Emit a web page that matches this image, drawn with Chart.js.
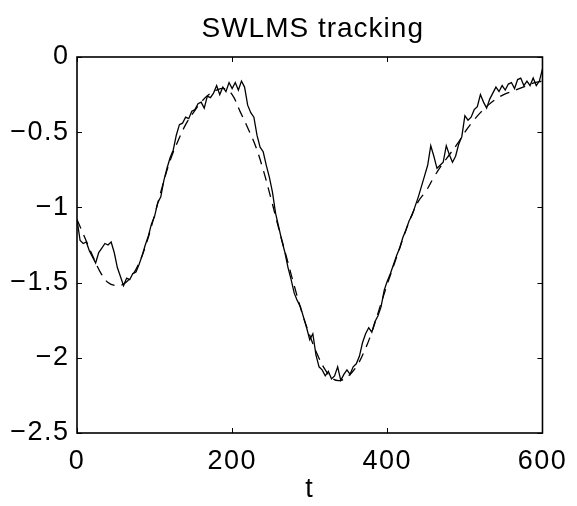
<!DOCTYPE html>
<html>
<head>
<meta charset="utf-8">
<script src="https://cdn.jsdelivr.net/npm/chart.js@4.4.1/dist/chart.umd.min.js"></script>
<style>
  body { margin: 0; background: #fff; }
  canvas { display: block; }
</style>
</head>
<body>
<canvas id="trackChart" width="577" height="506"></canvas>
<script>
// true parameter (dashed), sampled every 10 steps
const trueT = [0, 10, 20, 30, 40, 50, 60, 70, 80, 90, 100, 110, 120, 130, 140, 150, 160, 170, 180, 190,
  200, 210, 220, 230, 240, 250, 260, 270, 280, 290, 300, 310, 320, 330, 340, 350, 360, 370, 380, 390,
  400, 410, 420, 430, 440, 450, 460, 470, 480, 490, 500, 510, 520, 530, 540, 550, 560, 570, 580, 590, 600];
const trueValues = [-1.08, -1.20, -1.32, -1.43, -1.50, -1.52, -1.51, -1.46, -1.37, -1.23,
  -1.05, -0.86, -0.69, -0.56, -0.45, -0.37, -0.30, -0.25, -0.22, -0.21,
  -0.25, -0.36, -0.47, -0.59, -0.75, -0.94, -1.14, -1.33, -1.52, -1.70,
  -1.85, -1.98, -2.08, -2.14, -2.15, -2.12, -2.06, -1.96, -1.83, -1.67,
  -1.51, -1.36, -1.21, -1.07, -0.96, -0.89, -0.80, -0.72, -0.65, -0.58,
  -0.50, -0.43, -0.37, -0.32, -0.28, -0.25, -0.23, -0.21, -0.19, -0.17, -0.16];

// SWLMS estimate (solid), sampled every 4 steps
const estStep = 4;
const estValues = [-1.08, -1.22, -1.24, -1.23, -1.29, -1.33, -1.37, -1.30, -1.27, -1.24,
  -1.25, -1.23, -1.30, -1.40, -1.46, -1.52, -1.47, -1.48, -1.44, -1.43,
  -1.38, -1.32, -1.25, -1.19, -1.11, -1.06, -0.97, -0.93, -0.82, -0.74,
  -0.67, -0.62, -0.52, -0.45, -0.44, -0.40, -0.41, -0.36, -0.35, -0.31,
  -0.30, -0.34, -0.26, -0.27, -0.24, -0.19, -0.25, -0.20, -0.23, -0.17,
  -0.21, -0.17, -0.22, -0.16, -0.20, -0.32, -0.37, -0.40, -0.52, -0.60,
  -0.63, -0.72, -0.80, -0.90, -1.04, -1.13, -1.22, -1.30, -1.40, -1.48,
  -1.57, -1.62, -1.66, -1.73, -1.80, -1.88, -1.84, -1.98, -2.06, -2.08,
  -2.12, -2.09, -2.14, -2.12, -2.06, -2.15, -2.11, -2.08, -2.11, -2.06,
  -2.04, -1.99, -1.90, -1.84, -1.80, -1.83, -1.76, -1.72, -1.66, -1.55,
  -1.49, -1.44, -1.38, -1.32, -1.27, -1.20, -1.15, -1.09, -1.05, -0.99,
  -0.93, -0.86, -0.79, -0.72, -0.59, -0.66, -0.74, -0.72, -0.70, -0.59,
  -0.65, -0.70, -0.66, -0.58, -0.53, -0.39, -0.42, -0.40, -0.35, -0.33,
  -0.25, -0.30, -0.34, -0.28, -0.24, -0.20, -0.23, -0.19, -0.22, -0.18,
  -0.17, -0.21, -0.15, -0.14, -0.19, -0.16, -0.19, -0.14, -0.19, -0.16, -0.08];

const xTicks = [0, 200, 400, 600];
const yTicks = [0, -0.5, -1, -1.5, -2, -2.5];
const titleText = "SWLMS tracking";

const FONT = "'Liberation Sans', Arial, Helvetica, sans-serif";

// box around the axes with inward tick marks, title centred over the axes (MATLAB look)
const framePlugin = {
  id: "frame",
  beforeDraw(chart) {
    // MATLAB's Helvetica runs a little wider than Liberation Sans
    chart.ctx.letterSpacing = "1.5px";
  },
  afterDatasetsDraw(chart) {
    const { ctx, chartArea: a, scales } = chart;
    ctx.save();
    ctx.strokeStyle = "#000";
    ctx.lineWidth = 1;
    ctx.beginPath();
    xTicks.forEach((v) => {
      const px = Math.round(scales.x.getPixelForValue(v)) + 0.5;
      ctx.moveTo(px, a.bottom);
      ctx.lineTo(px, a.bottom - 5);
      ctx.moveTo(px, a.top);
      ctx.lineTo(px, a.top + 5);
    });
    yTicks.forEach((v) => {
      const py = Math.round(scales.y.getPixelForValue(v)) + 0.5;
      ctx.moveTo(a.left, py);
      ctx.lineTo(a.left + 5, py);
      ctx.moveTo(a.right, py);
      ctx.lineTo(a.right - 5, py);
    });
    ctx.stroke();
    ctx.lineWidth = 1.6;
    ctx.strokeRect(a.left, a.top, a.right - a.left, a.bottom - a.top);

    ctx.letterSpacing = "1px";
    ctx.fillStyle = "#000";
    ctx.font = "28px " + FONT;
    ctx.textAlign = "center";
    ctx.textBaseline = "alphabetic";
    ctx.fillText(titleText, (a.left + a.right) / 2 + 3, 37);
    ctx.restore();
  },
};

const minusSign = (v) => String(v).replace("-", "\u2212");

new Chart(document.getElementById("trackChart"), {
  type: "line",
  data: {
    datasets: [
      {
        label: "true",
        data: trueT.map((t, i) => ({ x: t, y: trueValues[i] })),
        borderColor: "#000",
        borderWidth: 1.3,
        borderDash: [10, 7],
        pointRadius: 0,
        tension: 0.4,
        fill: false,
      },
      {
        label: "SWLMS",
        data: estValues.map((v, i) => ({ x: i * estStep, y: v })),
        borderColor: "#000",
        borderWidth: 1.3,
        pointRadius: 0,
        tension: 0,
        fill: false,
      },
    ],
  },
  options: {
    responsive: false,
    animation: false,
    layout: { padding: { left: 0, right: 29, top: 57, bottom: 0 } },
    plugins: {
      legend: { display: false },
      tooltip: { enabled: false },
      title: { display: false },
    },
    scales: {
      x: {
        type: "linear",
        min: 0,
        max: 600,
        afterBuildTicks: (s) => { s.ticks = xTicks.map((v) => ({ value: v })); },
        afterFit: (s) => { s.height = 73; },
        grid: { display: false, drawTicks: false },
        border: { display: false },
        ticks: {
          color: "#000",
          padding: 12,
          maxRotation: 0,
          font: { family: FONT, size: 27 },
        },
        title: {
          display: true,
          text: "t",
          color: "#000",
          font: { family: FONT, size: 27 },
          padding: { top: 0, bottom: 0 },
        },
      },
      y: {
        min: -2.5,
        max: 0,
        afterBuildTicks: (s) => { s.ticks = yTicks.map((v) => ({ value: v })); },
        afterFit: (s) => { s.width = 77; },
        grid: { display: false, drawTicks: false },
        border: { display: false },
        ticks: {
          color: "#000",
          padding: 7.5,
          font: { family: FONT, size: 27 },
          callback: (v) => minusSign(v),
        },
      },
    },
  },
  plugins: [framePlugin],
});
</script>
</body>
</html>
